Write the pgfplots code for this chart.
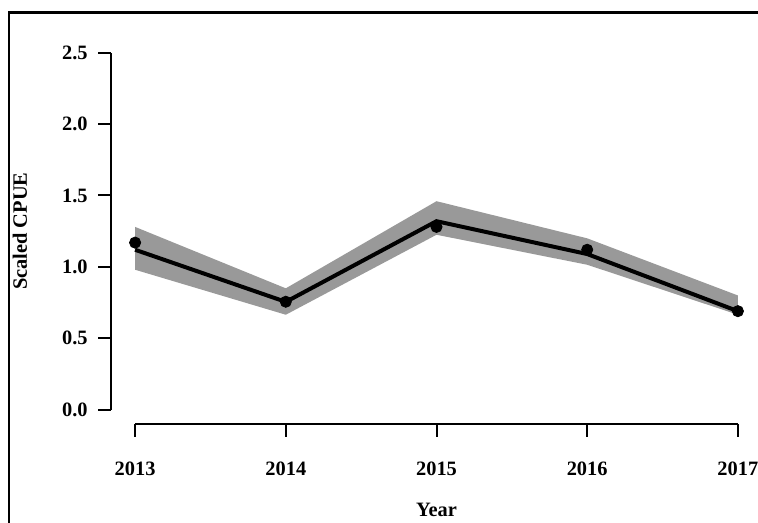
\documentclass[border=0pt]{standalone}
\usepackage{pgfplots}
\pgfplotsset{compat=1.18}
\usepackage{fontspec}
\setmainfont{Liberation Serif}
\definecolor{ribbon}{RGB}{153,153,153}
\begin{document}
\begin{tikzpicture}
\useasboundingbox (-55.5pt,-49.5pt) rectangle (323.5pt,212pt);
\draw[line width=1.2pt] (-51pt,-60pt) -- (-51pt,205.75pt) -- (340pt,205.75pt);
\begin{axis}[
 at={(0,0)}, anchor=south west,
 scale only axis, width=325.5pt, height=192.8pt,
 xmin=2012.84, xmax=2017.16, ymin=-0.1, ymax=2.6,
 axis lines=left, axis line style={draw=none},
 tick align=outside, major tick length=6.5pt,
 tick style={black, line width=1pt},
 xtick={2013,2014,2015,2016,2017}, xticklabels={2013,2014,2015,2016,2017},
 ytick={0,0.5,1,1.5,2,2.5}, yticklabels={0.0,0.5,1.0,1.5,2.0,2.5},
 ticklabel style={font=\bfseries\fontsize{10.2}{12}\selectfont, inner sep=0pt},
 xticklabel style={anchor=north, yshift=-12.5pt},
 yticklabel style={anchor=east, xshift=-5pt},
 label style={font=\bfseries\fontsize{10.2}{12}\selectfont, inner sep=0pt},
 xlabel={Year}, ylabel={Scaled CPUE},
 xlabel style={at={(axis description cs:0.5,0)}, anchor=north, yshift=-39.5pt},
 ylabel style={at={(axis description cs:-0.1398,0.5)}, anchor=center},
 clip=false,
]
\draw[line width=1pt] (axis cs:2012.84,0) -- (axis cs:2012.84,2.5);
\draw[line width=1pt] (axis cs:2013,-0.1) -- (axis cs:2017,-0.1);
\addplot[fill=ribbon, draw=none] coordinates {
 (2013,1.28) (2014,0.85) (2015,1.46) (2016,1.20) (2017,0.80)
 (2017,0.665) (2016,1.015) (2015,1.225) (2014,0.665) (2013,0.98)
} -- cycle;
\addplot[black, line width=2pt, no marks] coordinates {
 (2013,1.12) (2014,0.755) (2015,1.32) (2016,1.09) (2017,0.69)
};
\addplot[only marks, mark=*, mark size=2.8pt, black] coordinates {
 (2013,1.17) (2014,0.756) (2015,1.28) (2016,1.12) (2017,0.69)
};
\end{axis}
\end{tikzpicture}
\end{document}
